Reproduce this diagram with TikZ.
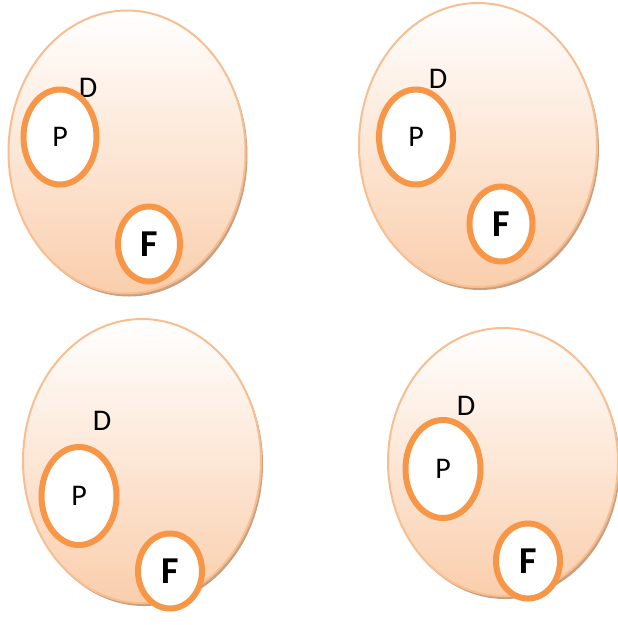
\documentclass[tikz,border=0pt]{standalone}
\usepackage{fontspec}
\setmainfont{Carlito}
\usetikzlibrary{shapes.geometric,shadows}
\definecolor{setedge}{RGB}{247,190,145}
\definecolor{setfill}{RGB}{250,206,172}
\definecolor{setshadow}{RGB}{200,160,128}
\definecolor{partorange}{RGB}{247,150,70}

\begin{document}
\begin{tikzpicture}[
    x=1pt,y=-1pt,
    setblob/.style={ellipse,draw=setedge,line width=2pt,
      top color=white,bottom color=setfill,
      general shadow={shadow xshift=2pt,shadow yshift=-3pt,fill=setshadow}},
    part/.style={ellipse,draw=partorange,line width=6pt,fill=white,
      inner sep=0pt,font=\fontsize{30}{34}\selectfont},
    fpart/.style={part,font=\fontsize{38}{42}\selectfont\bfseries},
    dlabel/.style={inner sep=0pt,font=\fontsize{30}{34}\selectfont}
  ]
    \useasboundingbox (0,0) rectangle (618,625);

    % top left
    \node[setblob,minimum width=237,minimum height=283] (dom1) at (127,152) {};
    \node[dlabel] (d1) at (88,88) {D};
    \node[part,minimum width=73,minimum height=95] (p1) at (60,137) {P};
    \node[fpart,minimum width=62,minimum height=75] (f1) at (149,244) {F};

    % top right
    \node[setblob,minimum width=238,minimum height=284] (dom2) at (478,145) {};
    \node[dlabel] (d2) at (438,79) {D};
    \node[part,minimum width=74,minimum height=95] (p2) at (416,137) {P};
    \node[fpart,minimum width=63,minimum height=75] (f2) at (501,224) {F};

    % bottom left
    \node[setblob,minimum width=238,minimum height=284] (dom3) at (142,461) {};
    \node[dlabel] (d3) at (102,421) {D};
    \node[part,minimum width=75,minimum height=98] (p3) at (79,496) {P};
    \node[fpart,minimum width=64,minimum height=75] (f3) at (170,571) {F};

    % bottom right
    \node[setblob,minimum width=230,minimum height=268] (dom4) at (503,462) {};
    \node[dlabel] (d4) at (466,406) {D};
    \node[part,minimum width=75,minimum height=98] (p4) at (443,469) {P};
    \node[fpart,minimum width=64,minimum height=75] (f4) at (528,561) {F};
  \end{tikzpicture}
\end{document}
